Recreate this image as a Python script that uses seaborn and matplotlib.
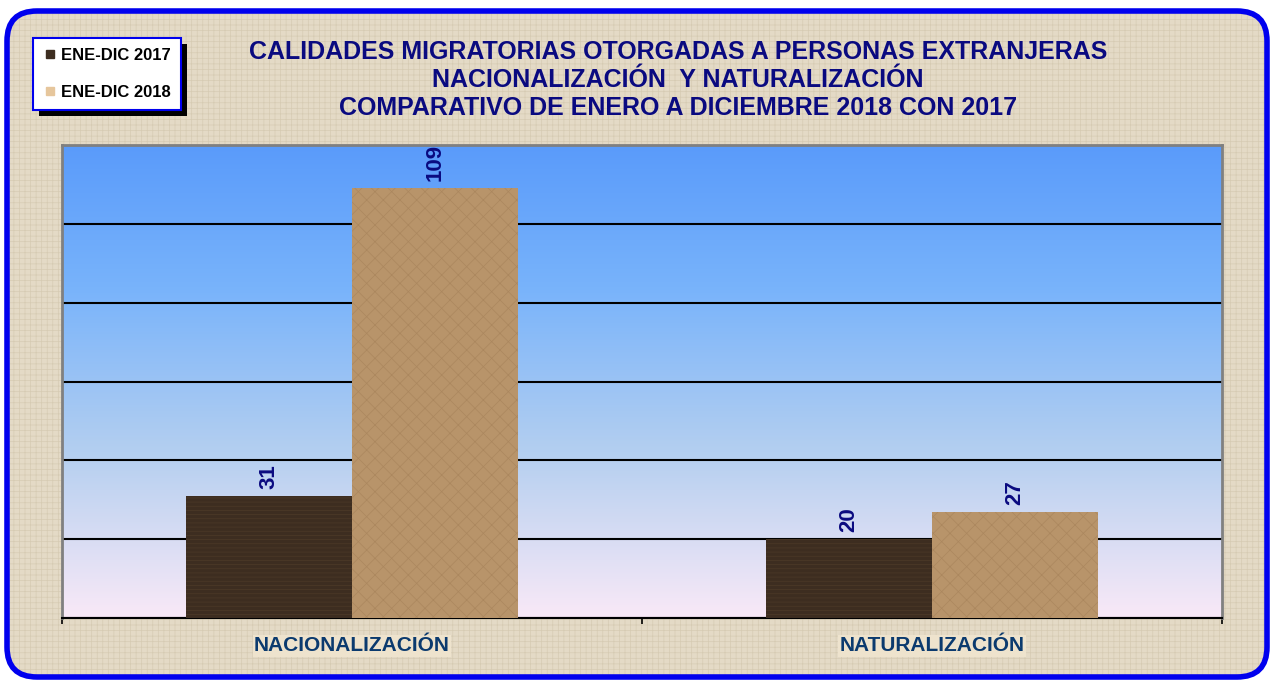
import numpy as np
import pandas as pd
import seaborn as sns
import matplotlib.pyplot as plt
from matplotlib.patches import FancyBboxPatch, Rectangle
from matplotlib.colors import LinearSegmentedColormap
from matplotlib.transforms import IdentityTransform

# datos del grafico
categorias = ['NACIONALIZACIÓN', 'NATURALIZACIÓN']
series = ['ENE-DIC 2017', 'ENE-DIC 2018']
valores_2017 = [31, 20]
valores_2018 = [109, 27]
titulo = ('CALIDADES MIGRATORIAS OTORGADAS A PERSONAS EXTRANJERAS\n'
          'NACIONALIZACIÓN  Y NATURALIZACIÓN\n'
          'COMPARATIVO DE ENERO A DICIEMBRE 2018 CON 2017')

df = pd.DataFrame({
    'categoria': categorias * 2,
    'serie': [series[0]] * 2 + [series[1]] * 2,
    'valor': valores_2017 + valores_2018,
})

sns.set_style('white')
plt.rcParams['font.family'] = ['Liberation Sans', 'DejaVu Sans']
plt.rcParams['hatch.linewidth'] = 0.5

colores = ['#3d2d20', '#b8946a']
navy = '#0a0a80'

fig = plt.figure(figsize=(12.73, 6.8), dpi=100)
fig.patch.set_facecolor('white')

# marco exterior con fondo beige (textura de tela simulada con hatch)
marco = FancyBboxPatch((0.07, 0.03), 12.6, 6.66,
                       boxstyle='round,pad=0,rounding_size=0.3',
                       transform=fig.dpi_scale_trans, facecolor='#e4dac6',
                       edgecolor='none', linewidth=0, zorder=-3)
fig.add_artist(marco)
textura = FancyBboxPatch((0.07, 0.03), 12.6, 6.66,
                         boxstyle='round,pad=0,rounding_size=0.3',
                         transform=fig.dpi_scale_trans, facecolor='none',
                         edgecolor='#d6cbb3', linewidth=0, hatch='+++', zorder=-2)
fig.add_artist(textura)
borde = FancyBboxPatch((0.07, 0.03), 12.6, 6.66,
                       boxstyle='round,pad=0,rounding_size=0.3',
                       transform=fig.dpi_scale_trans, facecolor='none',
                       edgecolor='#0000ee', linewidth=4, zorder=-1)
fig.add_artist(borde)

ax = fig.add_axes([62 / 1273, 62 / 680, 1160 / 1273, 473 / 680])
ax.set_zorder(1)

# fondo degradado del area de trazado
cmap = LinearSegmentedColormap.from_list(
    'fondo', [(0, '#f9e9f7'), (0.35, '#b4cff0'), (0.7, '#78b3fb'), (1, '#5a9bfa')])
grad = np.linspace(0, 1, 256).reshape(-1, 1)
ax.imshow(grad, cmap=cmap, aspect='auto', origin='lower',
          extent=[-0.5, 1.5, 0, 120], zorder=0)

sns.barplot(data=df, x='categoria', y='valor', hue='serie', palette=colores,
            width=0.572, saturation=1, legend=False, ax=ax, zorder=3)

hatches = ['----', 'xx']
hatch_cols = ['#4d3a28', '#ab875e']
for cont, h, hc in zip(ax.containers, hatches, hatch_cols):
    for barra in cont:
        barra.set_hatch(h)
        barra.set_edgecolor(hc)
        barra.set_linewidth(0)
    ax.bar_label(cont, rotation=90, padding=5, color=navy,
                 fontsize=16, fontweight='bold')

ax.set_xlim(-0.5, 1.5)
ax.set_ylim(0, 120)
ax.set_yticks(range(0, 121, 20))
ax.set_yticklabels([])
ax.yaxis.grid(True, color='black', linewidth=1.5, zorder=1)
ax.set_axisbelow(True)
ax.set_xlabel('')
ax.set_ylabel('')
ax.set_xticks([0, 1])
ax.set_xticklabels(categorias, fontsize=15, fontweight='bold', color='#0b3a6e')
for t in ax.get_xticklabels():
    t.set_bbox(dict(facecolor='#eee3cd', edgecolor='none', pad=1))
ax.tick_params(axis='x', length=0, pad=13)
ax.set_xticks([-0.5, 0.5, 1.5], minor=True)
ax.tick_params(axis='x', which='minor', length=4, width=1.2, color='black',
               direction='out', bottom=True)
ax.tick_params(axis='y', length=0)
for lado in ['left', 'right', 'top']:
    ax.spines[lado].set_color('#808080')
    ax.spines[lado].set_linewidth(2)
ax.spines['bottom'].set_color('black')
ax.spines['bottom'].set_linewidth(1.5)

fig.text(678 / 1273, 1 - 40 / 680, titulo, ha='center', va='top',
         fontsize=18, fontweight='bold', color=navy, linespacing=1.2)

# leyenda
manejadores = [plt.Line2D([], [], marker='s', linestyle='', markersize=6,
                          markerfacecolor=c, markeredgecolor=c)
               for c in ['#3d2d20', '#e6c69c']]
leg = fig.legend(manejadores, series, loc='upper left',
                 bbox_to_anchor=(33 / 1273, 1 - 38 / 680), frameon=True,
                 fancybox=False, handletextpad=0.3, handlelength=0.8,
                 labelspacing=1.3, borderpad=0.6, borderaxespad=0,
                 labelcolor='black',
                 prop={'weight': 'bold', 'size': 12})
leg.get_frame().set_edgecolor('#0000ee')
leg.get_frame().set_linewidth(1.5)
leg.get_frame().set_facecolor('white')
leg.get_frame().set_alpha(1)
leg.set_zorder(6)

fig.canvas.draw()
bb = leg.get_window_extent()
sombra = Rectangle((bb.x0 + 6, bb.y0 - 6), bb.width, bb.height,
                   transform=IdentityTransform(), facecolor='black',
                   edgecolor='none', zorder=5)
fig.add_artist(sombra)

fig.savefig('out.png', dpi=100)
